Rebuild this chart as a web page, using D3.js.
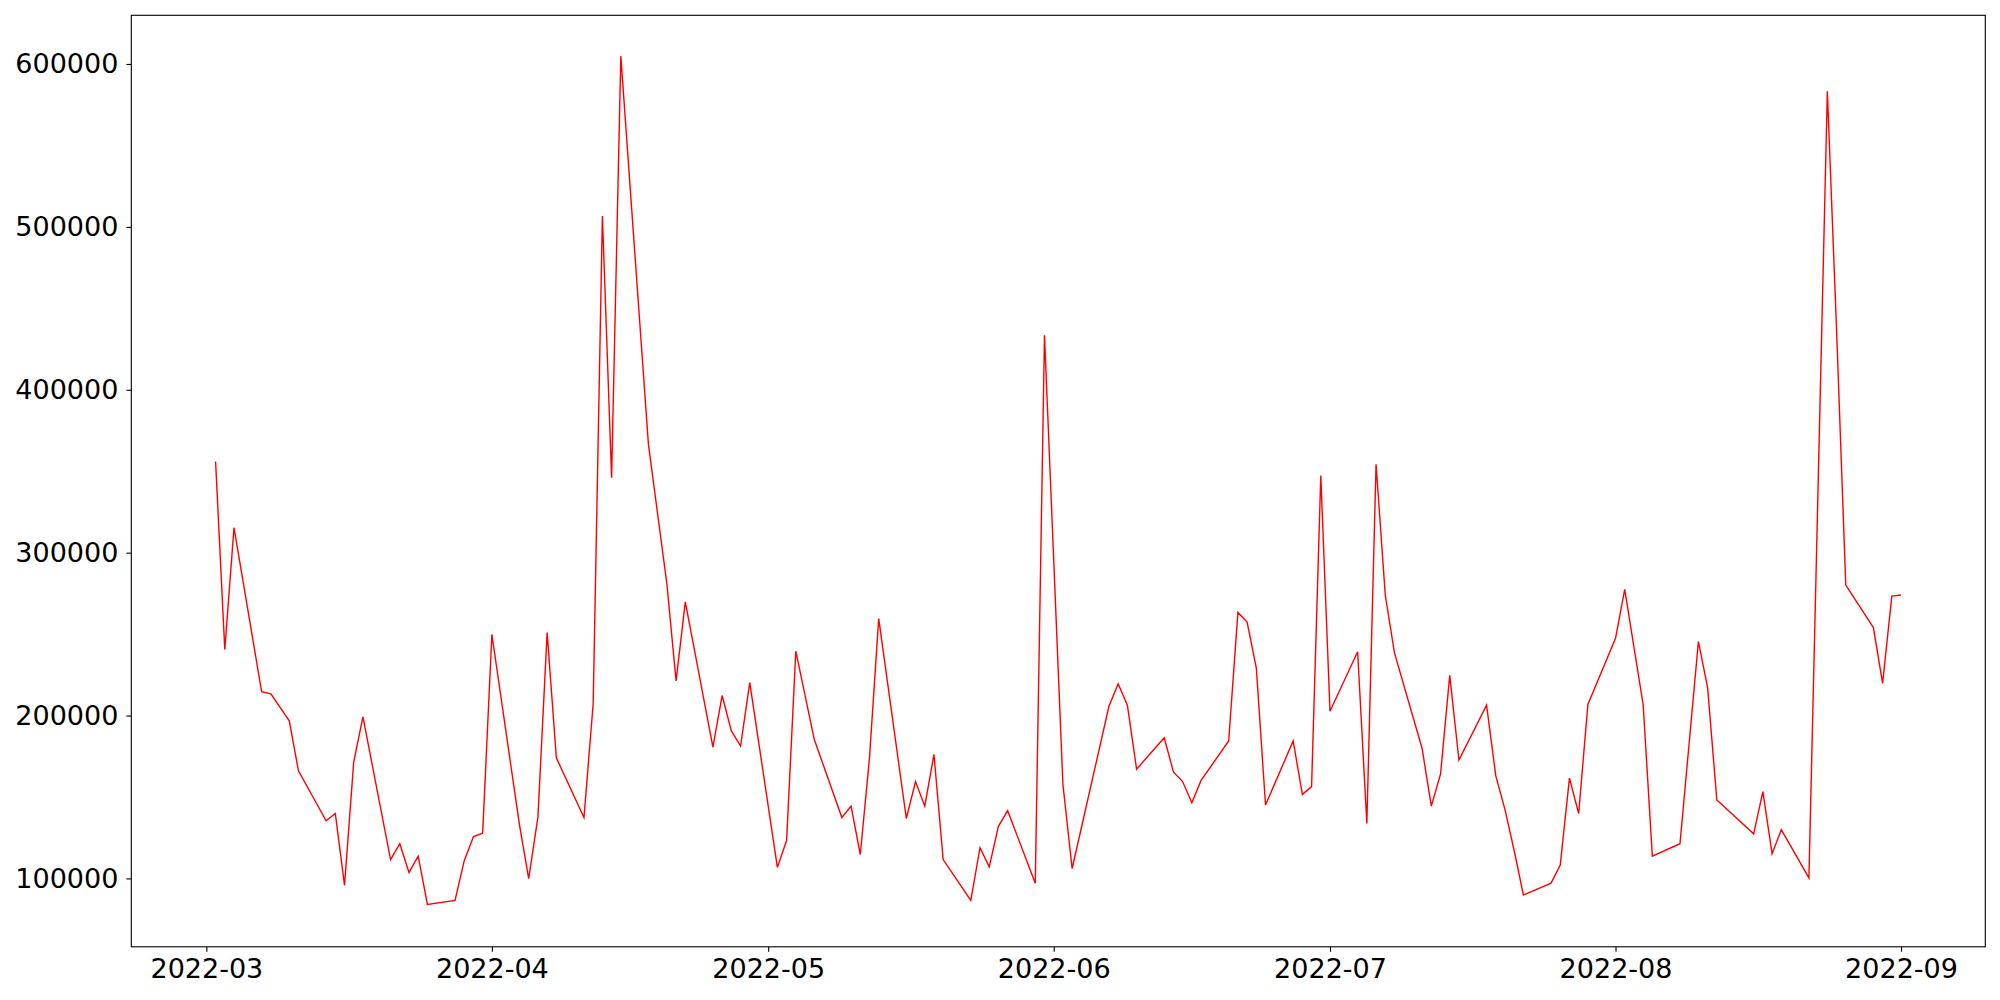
<!DOCTYPE html>
<html>
<head>
<meta charset="utf-8">
<script src="https://cdn.jsdelivr.net/npm/d3@7"></script>
<style>
  html, body { margin: 0; padding: 0; background: #fff; }
  svg { display: block; }
  text { font-family: "DejaVu Sans", sans-serif; }
</style>
</head>
<body>
<svg id="chart" width="2000" height="1000"></svg>
<script>
const dates = [
  "2022-03-02","2022-03-03","2022-03-04","2022-03-07","2022-03-08","2022-03-10","2022-03-11",
  "2022-03-14","2022-03-15","2022-03-16","2022-03-17","2022-03-18",
  "2022-03-21","2022-03-22","2022-03-23","2022-03-24","2022-03-25",
  "2022-03-28","2022-03-29","2022-03-30","2022-03-31","2022-04-01",
  "2022-04-04","2022-04-05","2022-04-06","2022-04-07","2022-04-08",
  "2022-04-11","2022-04-12","2022-04-13","2022-04-14","2022-04-15",
  "2022-04-18","2022-04-20","2022-04-21","2022-04-22",
  "2022-04-25","2022-04-26","2022-04-27","2022-04-28","2022-04-29",
  "2022-05-02","2022-05-03","2022-05-04","2022-05-06",
  "2022-05-09","2022-05-10","2022-05-11","2022-05-12","2022-05-13",
  "2022-05-16","2022-05-17","2022-05-18","2022-05-19","2022-05-20",
  "2022-05-23","2022-05-24","2022-05-25","2022-05-26","2022-05-27",
  "2022-05-30","2022-05-31","2022-06-02","2022-06-03",
  "2022-06-07","2022-06-08","2022-06-09","2022-06-10",
  "2022-06-13","2022-06-14","2022-06-15","2022-06-16","2022-06-17",
  "2022-06-20","2022-06-21","2022-06-22","2022-06-23","2022-06-24",
  "2022-06-27","2022-06-28","2022-06-29","2022-06-30","2022-07-01",
  "2022-07-04","2022-07-05","2022-07-06","2022-07-07","2022-07-08",
  "2022-07-11","2022-07-12","2022-07-13","2022-07-14","2022-07-15",
  "2022-07-18","2022-07-19","2022-07-20","2022-07-21","2022-07-22",
  "2022-07-25","2022-07-26","2022-07-27","2022-07-28","2022-07-29",
  "2022-08-01","2022-08-02","2022-08-03","2022-08-04","2022-08-05",
  "2022-08-08","2022-08-10","2022-08-11","2022-08-12",
  "2022-08-16","2022-08-17","2022-08-18","2022-08-19",
  "2022-08-22","2022-08-24","2022-08-25","2022-08-26",
  "2022-08-29","2022-08-30","2022-08-31","2022-09-01"
];
const values = [
  356000,240500,315300,214700,213300,196800,166100,
  135400,139900,95800,171600,199200,
  111600,121300,103700,113700,84100,
  86500,110900,125700,127800,249800,
  132700,99900,137800,250900,174000,
  137400,207400,506600,346000,604800,
  366300,280900,221300,269800,
  180600,212300,190600,181300,220200,
  106800,123300,239500,185400,
  137400,144400,114700,174000,259500,
  136800,159500,144400,176100,111600,
  86500,118900,107100,132000,141600,
  97100,433500,157800,106100,
  205700,219500,206400,167100,
  186400,165400,159500,146500,160200,
  184400,263300,257400,229200,145100,
  184400,151600,156400,347400,202600,
  239200,133700,354300,274000,238500,
  179800,144400,164000,224700,172700,
  206400,163000,142300,117000,89900,
  97100,108200,161600,139900,206800,
  247400,277400,242000,206800,113700,
  121300,245400,217100,148200,
  127400,153300,115100,129900,
  100300,583200,437000,280100,
  254000,219800,273300,274000
];
const yTicks = [100000, 200000, 300000, 400000, 500000, 600000];

const parse = d3.utcParse("%Y-%m-%d");
const data = dates.map((d, i) => ({ date: parse(d), value: values[i] }));

const plotLeft = 131.3, plotRight = 1985.3, plotTop = 15.3, plotBottom = 946.8;
const svg = d3.select("#chart");

const x0 = data[0].date.getTime(), x1 = data[data.length - 1].date.getTime();
const xPad = (x1 - x0) * 0.05;
const x = d3.scaleUtc()
  .domain([new Date(x0 - xPad), new Date(x1 + xPad)])
  .range([plotLeft, plotRight]);

const y = d3.scaleLinear()
  .domain([58040, 629880])
  .range([plotBottom, plotTop]);

// line
const line = d3.line().x(d => x(d.date)).y(d => y(d.value));
svg.append("path")
  .datum(data)
  .attr("d", line)
  .attr("fill", "none")
  .attr("stroke", "#ff0000")
  .attr("stroke-width", 1.4)
  .attr("stroke-linejoin", "miter");

// axes
const xAxis = d3.axisBottom(x)
  .ticks(d3.utcMonth.every(1))
  .tickFormat(d3.utcFormat("%Y-%m"))
  .tickSize(4.9).tickSizeOuter(0).tickPadding(7);
const gx = svg.append("g").attr("transform", `translate(0,${plotBottom})`).call(xAxis);
gx.select(".domain").remove();
gx.selectAll("line").attr("stroke", "#000").attr("stroke-width", 1.1);
gx.selectAll("text").attr("font-size", 27).attr("fill", "#000").attr("font-family", "DejaVu Sans");

const yAxis = d3.axisLeft(y)
  .tickValues(yTicks)
  .tickFormat(d3.format("d"))
  .tickSize(4.9).tickSizeOuter(0).tickPadding(8);
const gy = svg.append("g").attr("transform", `translate(${plotLeft},0)`).call(yAxis);
gy.select(".domain").remove();
gy.selectAll("line").attr("stroke", "#000").attr("stroke-width", 1.1);
gy.selectAll("text").attr("font-size", 27).attr("fill", "#000").attr("font-family", "DejaVu Sans");

// frame
svg.append("rect")
  .attr("x", plotLeft).attr("y", plotTop)
  .attr("width", plotRight - plotLeft).attr("height", plotBottom - plotTop)
  .attr("fill", "none").attr("stroke", "#000").attr("stroke-width", 1.1);
</script>
</body>
</html>
